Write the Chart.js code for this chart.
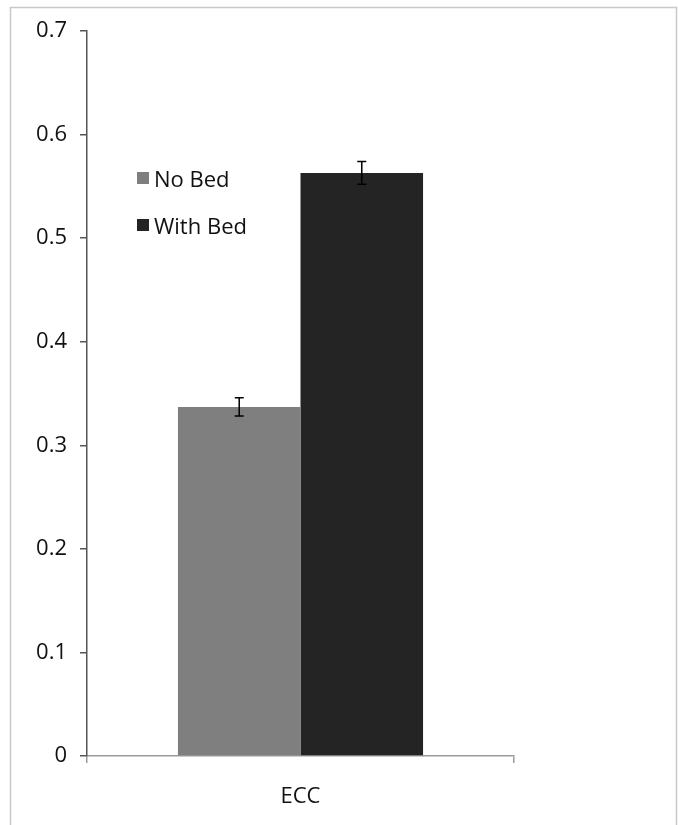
<html>
<head>
	<title>ECC</title>
	<script src="https://cdn.jsdelivr.net/npm/chart.js"></script>
	<style>
		body { margin: 0; background: #fff; }
		#wrap { position: relative; width: 678px; height: 825px; }
	</style>
</head>
<body>
	<div id="wrap">
		<canvas id="eccChart"></canvas>
	</div>
<script>
	const categories = ['ECC'];
	const seriesNames = ['No Bed', 'With Bed'];
	const noBed = [0.337];
	const withBed = [0.563];
	const noBedErr = [0.0088];
	const withBedErr = [0.011];
	const yTicks = [0, 0.1, 0.2, 0.3, 0.4, 0.5, 0.6, 0.7];

	const FONT = '"Open Sans", "Noto Sans", sans-serif';

	// error bars drawn on top of each bar
	const errorBars = {
		id: 'errorBars',
		afterDatasetsDraw(chart) {
			const ctx = chart.ctx;
			const y = chart.scales.y;
			chart.data.datasets.forEach((ds, i) => {
				const meta = chart.getDatasetMeta(i);
				meta.data.forEach((bar, j) => {
					const v = ds.data[j];
					const e = ds.err[j];
					const top = y.getPixelForValue(v + e);
					const bot = y.getPixelForValue(v - e);
					ctx.save();
					ctx.strokeStyle = '#000';
					ctx.lineWidth = 1.5;
					ctx.beginPath();
					ctx.moveTo(bar.x, top);
					ctx.lineTo(bar.x, bot);
					ctx.moveTo(bar.x - 4.5, top);
					ctx.lineTo(bar.x + 4.5, top);
					ctx.moveTo(bar.x - 4.5, bot);
					ctx.lineTo(bar.x + 4.5, bot);
					ctx.stroke();
					ctx.restore();
				});
			});
		}
	};

	// legend inside the plot + frame around the figure
	const extras = {
		id: 'extras',
		beforeDraw(chart) {
			const ctx = chart.ctx;
			ctx.save();
			ctx.strokeStyle = '#c8c8c8';
			ctx.lineWidth = 1.5;
			ctx.strokeRect(10.5, 7.5, 666, 840);
			ctx.restore();
		},
		afterDraw(chart) {
			const ctx = chart.ctx;
			ctx.save();
			ctx.font = '22px ' + FONT;
			ctx.textBaseline = 'middle';
			chart.data.datasets.forEach((ds, i) => {
				const yy = 181 + i * 47;
				ctx.fillStyle = ds.backgroundColor;
				ctx.fillRect(137, yy - 9, 12, 12);
				ctx.fillStyle = '#111';
				ctx.fillText(ds.label, 154, yy);
			});
			ctx.restore();
		}
	};

	const chart = new Chart(document.getElementById('eccChart'), {
		type: 'bar',
		data: {
			labels: categories,
			datasets: [
				{ label: seriesNames[0], data: noBed, err: noBedErr, backgroundColor: '#7f7f7f' },
				{ label: seriesNames[1], data: withBed, err: withBedErr, backgroundColor: '#242424' }
			]
		},
		options: {
			responsive: true,
			maintainAspectRatio: false,
			animation: false,
			datasets: { bar: { categoryPercentage: 0.574, barPercentage: 1.0 } },
			layout: { padding: { top: 31, right: 164, left: 0, bottom: 0 } },
			plugins: {
				legend: { display: false },
				tooltip: { enabled: false }
			},
			scales: {
				x: {
					grid: { drawOnChartArea: false, drawTicks: true, tickLength: 7, color: '#9a9a9a', lineWidth: 1.5 },
					border: { display: true, color: '#9a9a9a', width: 1.5 },
					ticks: { color: '#111', font: { family: FONT, size: 22 }, padding: 21 },
					afterFit(scale) { scale.height = 69; }
				},
				y: {
					min: 0,
					max: 0.7,
					afterBuildTicks(scale) { scale.ticks = yTicks.map(v => ({ value: v })); },
					grid: { drawOnChartArea: false, drawTicks: true, tickLength: 7, color: '#555', lineWidth: 1.5 },
					border: { display: true, color: '#555', width: 1.5 },
					ticks: {
						color: '#111',
						font: { family: FONT, size: 22 },
						padding: 13,
						callback: v => (v === 0 ? '0' : v.toFixed(1))
					},
					afterFit(scale) { scale.width = 87; }
				}
			}
		},
		plugins: [errorBars, extras]
	});
</script>
</body>
</html>
